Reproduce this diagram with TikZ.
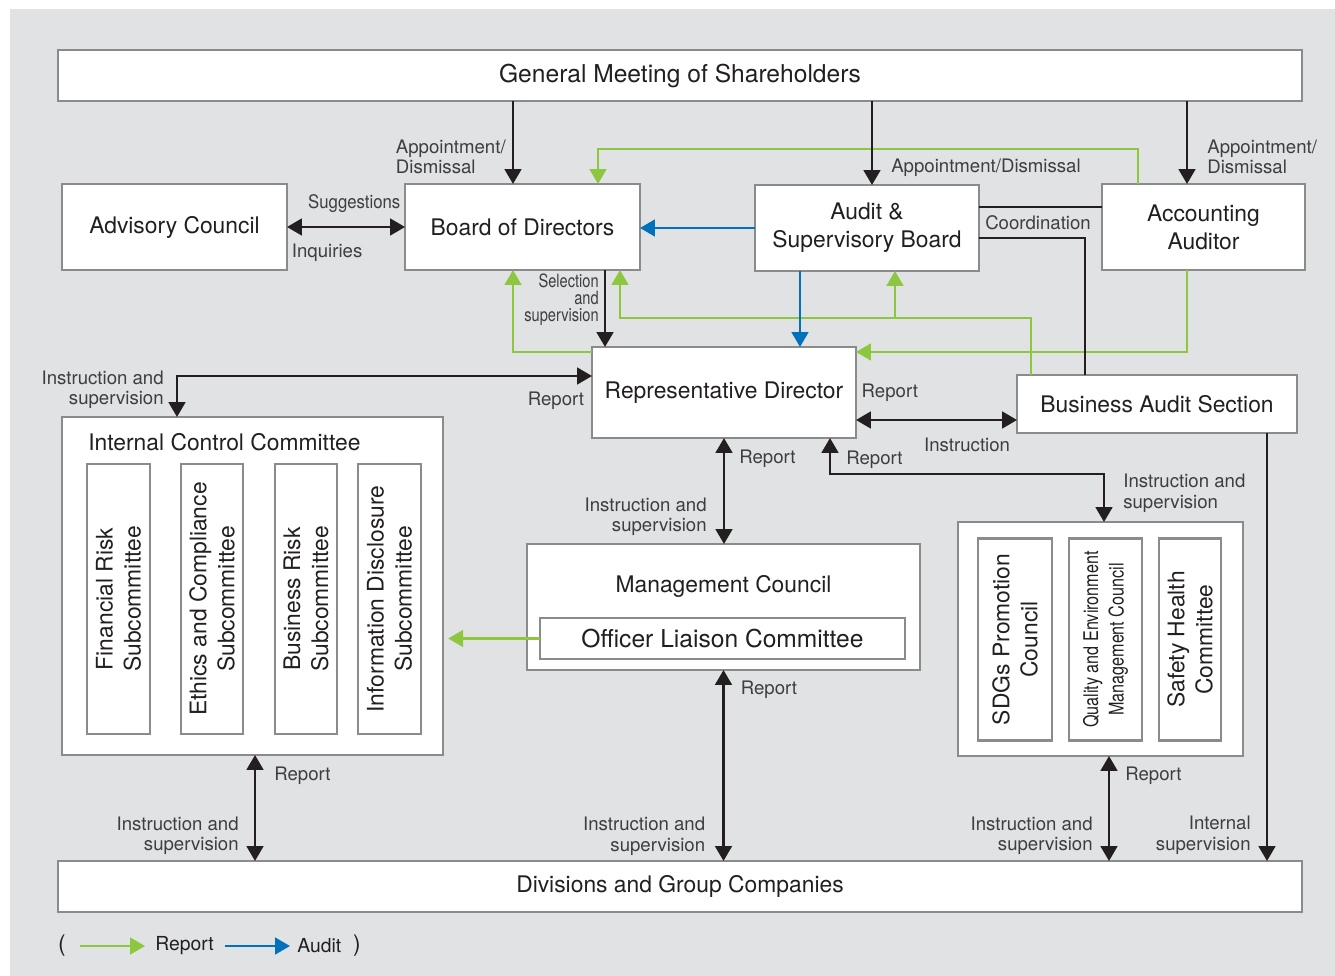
\documentclass[tikz,border=0pt]{standalone}
\usepackage{fontspec}
\setmainfont{TeX Gyre Heros}
\newfontfamily\narrowfont[FakeStretch=0.8]{TeX Gyre Heros}
\newfontfamily\semifont[FakeStretch=0.9]{TeX Gyre Heros}
\usetikzlibrary{arrows.meta,positioning}

\definecolor{bggray}{RGB}{225,226,228}
\definecolor{boxgray}{RGB}{138,139,141}
\definecolor{txtblack}{RGB}{35,31,32}
\definecolor{lblgray}{RGB}{62,62,64}
\definecolor{arrblack}{RGB}{35,31,32}
\definecolor{repgreen}{RGB}{141,198,63}
\definecolor{audblue}{RGB}{0,114,188}

\begin{document}
\begin{tikzpicture}[x=0.02cm, y=-0.02cm,
	>={Triangle[length=8.5pt,width=9.5pt]},
	box/.style={draw=boxgray, line width=1.4pt, fill=white, inner sep=0pt, outer sep=0pt,
		align=center, text=txtblack, font=\fontsize{13}{16}\selectfont},
	bigbox/.style={box, font=\fontsize{14}{16}\selectfont},
	subbox/.style={box, rotate=90, minimum width=5.4cm},
	title/.style={inner sep=0pt, text=txtblack, font=\fontsize{13}{16}\selectfont},
	lbl/.style={inner sep=0pt, text=lblgray, font=\fontsize{10.6}{11.6}\selectfont},
	narrowlbl/.style={lbl, font=\narrowfont\fontsize{10.4}{9.6}\selectfont},
	blk/.style={color=arrblack, line width=1.5pt},
	report/.style={color=repgreen, line width=1.4pt},
	audit/.style={color=audblue, line width=1.4pt}]
	\useasboundingbox (0,0) rectangle (1335,976);
	\fill[bggray] (10,9) rectangle (1335,976);
	
	% boxes
	\node[bigbox, minimum width=24.88cm, minimum height=1.02cm] (gms) at (680,75.5) {General Meeting of Shareholders};
	\node[box, minimum width=4.5cm, minimum height=1.72cm] (adv) at (174.5,227) {Advisory Council};
	\node[box, minimum width=4.7cm, minimum height=1.72cm] (bod) at (522.5,227) {Board of Directors};
	\node[box, minimum width=4.48cm, minimum height=1.72cm] (asb) at (867,228) {Audit \&\\Supervisory Board};
	\node[box, minimum width=4.06cm, minimum height=1.72cm] (acc) at (1203.5,227) {Accounting\\Auditor};
	\node[box, minimum width=5.28cm, minimum height=1.82cm] (rep) at (724,392.5) {Representative Director};
	\node[box, minimum width=5.6cm, minimum height=1.16cm] (bas) at (1157,404) {Business Audit Section};
	
	\node[box, minimum width=7.62cm, minimum height=6.76cm] (icc) at (252.5,586) {};
	\node[title, anchor=west] (icct) at (88,442) {Internal Control Committee};
	\node[subbox, minimum height=1.26cm] (fin) at (118.5,599) {Financial Risk\\Subcommittee};
	\node[subbox, minimum height=1.24cm] (eth) at (212,599) {Ethics and Compliance\\Subcommittee};
	\node[subbox, minimum height=1.24cm] (bur) at (306,599) {Business Risk\\Subcommittee};
	\node[subbox, minimum height=1.26cm] (inf) at (389.5,599) {Information Disclosure\\Subcommittee};
	
	\node[box, minimum width=7.86cm, minimum height=2.52cm] (mgc) at (723.5,607) {};
	\node[title] (mgct) at (723.5,586) {Management Council};
	\node[bigbox, minimum width=7.3cm, minimum height=0.82cm] (olc) at (722.5,638.5) {Officer Liaison Committee};
	
	\node[box, minimum width=5.7cm, minimum height=4.68cm] (grp) at (1100.5,639) {};
	\node[subbox, minimum width=4.04cm, minimum height=1.48cm] (sdg) at (1015,639.5) {SDGs Promotion\\Council};
	\node[subbox, minimum width=4.04cm, minimum height=1.46cm,
		font=\narrowfont\fontsize{11.5}{14.5}\selectfont] (qem) at (1105.5,639.5) {Quality and Environment\\Management Council};
	\node[subbox, minimum width=4.04cm, minimum height=1.24cm] (shc) at (1190,639.5) {Safety Health\\Committee};
	
	\node[box, minimum width=24.88cm, minimum height=1.02cm] (div) at (680,886.5) {Divisions and Group Companies};
	
	% bend points
	\coordinate (ka) at (513,0);
	\coordinate (kb) at (872,0);
	\coordinate (kc) at (1187,352);
	\coordinate (ga) at (1138,149);
	\coordinate (gb) at (598,149);
	\coordinate (gc) at (513,352);
	\coordinate (gd) at (1031,318);
	\coordinate (ge) at (620,318);
	\coordinate (gf) at (895,318);
	\coordinate (cy) at (0,207);
	\coordinate (co) at (1085,238);
	\coordinate (sel) at (605,0);
	\coordinate (au) at (800,0);
	\coordinate (rb) at (0,420);
	\coordinate (ri) at (177,376);
	\coordinate (rg1) at (830,474);
	\coordinate (rg2) at (1104,474);
	\coordinate (da) at (255,0);
	\coordinate (db) at (1109,0);
	\coordinate (dc) at (1267,0);
	
	% report (green)
	\draw[report,->] (acc.north -| ga) -- (ga) -- (gb) -- (bod.north -| gb);
	\draw[report,->] (rep.west |- gc) -- (gc) -- (bod.south -| gc);
	\draw[report,->] (bas.north -| gd) -- (gd) -- (ge) -- (bod.south -| ge);
	\draw[report,->] (gf) -- (asb.south -| gf);
	\draw[report,->] (acc.south -| kc) -- (kc) -- (rep.east |- kc);
	\draw[report,->,shorten >=3pt] (olc.west) -- (olc.west -| icc.east);
	
	% audit (blue)
	\draw[audit,->] (asb.west) -- (asb.west -| bod.east);
	\draw[audit,->] (asb.south -| au) -- (rep.north -| au);
	
	% coordination
	\draw[blk] (asb.east |- cy) -- node[lbl, pos=0.48, yshift=-0.32cm] (lco) {Coordination} (acc.west |- cy);
	\draw[blk] (asb.east |- co) -- (co) -- (bas.north -| co);
	
	\path[->, blk]
	(gms.south -| ka) edge node[lbl, anchor=east, align=left, pos=0.675, xshift=-0.12cm] (lap1) {Appointment/\\Dismissal} (bod.north -| ka)
	(gms.south -| kb) edge node[lbl, anchor=west, pos=0.8, xshift=0.36cm] (lap2) {Appointment/Dismissal} (asb.north -| kb)
	(gms.south -| kc) edge node[lbl, anchor=west, align=left, pos=0.675, xshift=0.38cm] (lap3) {Appointment/\\Dismissal} (acc.north -| kc)
	(bod.south -| sel) edge node[narrowlbl, anchor=east, align=right, pos=0.39, xshift=-0.1cm] (lsel) {Selection\\and\\supervision} (rep.north -| sel)
	(bas.south -| dc) edge node[lbl, anchor=east, align=right, pos=0.94, xshift=-0.3cm] (lint) {Internal\\supervision} (div.north -| dc)
	;
	\path[<->, blk]
	(adv) edge node[lbl, pos=0.57, yshift=0.46cm, font=\semifont\fontsize{10.6}{11.6}\selectfont] (lsug) {Suggestions}
	node[lbl, pos=0.34, yshift=-0.52cm] (linq) {Inquiries} (bod)
	(rep.east |- rb) edge node[lbl, pos=0.21, yshift=0.54cm] (lrb1) {Report}
	node[lbl, pos=0.69, yshift=-0.5cm] (lrb2) {Instruction} (bas.west |- rb)
	(rep.south) edge node[lbl, anchor=west, pos=0.2, xshift=0.28cm] (lrm1) {Report}
	node[lbl, anchor=east, align=right, pos=0.74, xshift=-0.32cm] (lrm2) {Instruction and\\supervision} (rep.south |- mgc.north)
	(icc.south -| da) edge node[lbl, anchor=west, pos=0.2, xshift=0.36cm] (lid1) {Report}
	node[lbl, anchor=east, align=right, pos=0.76, xshift=-0.3cm] (lid2) {Instruction and\\supervision} (div.north -| da)
	(mgc.south) edge node[lbl, anchor=west, pos=0.105, xshift=0.32cm] (lmd1) {Report}
	node[lbl, anchor=east, align=right, pos=0.87, xshift=-0.34cm] (lmd2) {Instruction and\\supervision} (mgc.south |- div.north)
	(grp.south -| db) edge node[lbl, anchor=west, pos=0.19, xshift=0.3cm] (lgd1) {Report}
	node[lbl, anchor=east, align=right, pos=0.76, xshift=-0.3cm] (lgd2) {Instruction and\\supervision} (div.north -| db)
	;
	\draw[<->, blk] (rep.west |- ri) -- node[lbl, pos=0.087, yshift=-0.5cm] (lri1) {Report} (ri)
	-- node[lbl, anchor=east, align=right, pos=0.34, xshift=-0.24cm] (lri2) {Instruction and\\supervision} (icc.north -| ri);
	\draw[<->, blk] (rep.south -| rg1) -- node[lbl, anchor=west, pos=0.61, xshift=0.3cm] (lrg1) {Report} (rg1)
	-- (rg2) -- node[lbl, anchor=west, align=left, pos=0.4, xshift=0.36cm] (lrg2) {Instruction and\\supervision} (grp.north -| rg2);
	
	% legend
	\node[title] (lpa) at (62,946) {(};
	\coordinate (lg1) at (80,946);
	\coordinate (lg2) at (145,946);
	\node[lbl, anchor=west, text=txtblack, font=\fontsize{11}{12}\selectfont] (lrep) at (155,946) {Report};
	\coordinate (lb1) at (225,946);
	\coordinate (lb2) at (290,946);
	\node[lbl, anchor=west, text=txtblack, font=\fontsize{11}{12}\selectfont] (laud) at (297,946) {Audit};
	\node[title] (lpb) at (357,946) {)};
	\draw[report,->] (lg1) -- (lg2);
	\draw[audit,->] (lb1) -- (lb2);
\end{tikzpicture}
\end{document}
